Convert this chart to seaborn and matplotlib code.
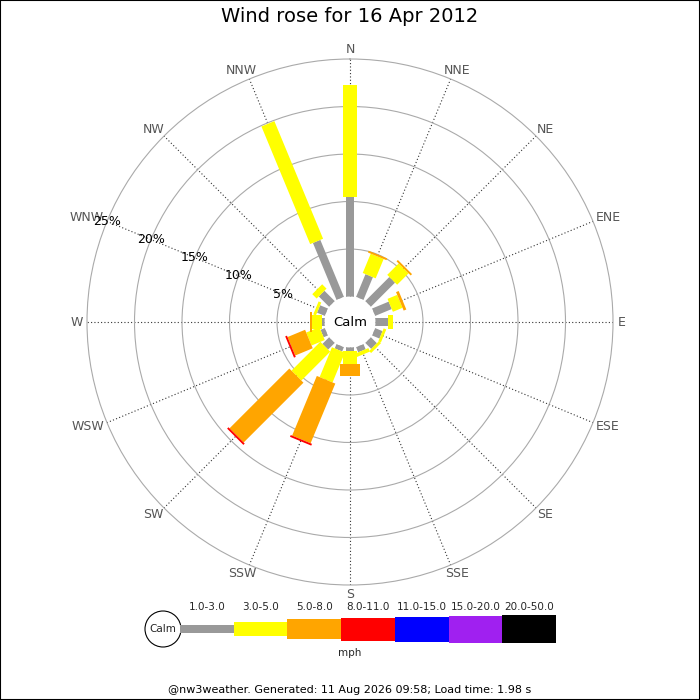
import numpy as np
import matplotlib
matplotlib.use("Agg")
import matplotlib.pyplot as plt
from matplotlib.patches import Rectangle, Circle
import seaborn as sns

# wind directions (16 points) and % of time per speed band (mph)
directions = ["N", "NNE", "NE", "ENE", "E", "ESE", "SE", "SSE",
              "S", "SSW", "SW", "WSW", "W", "WNW", "NW", "NNW"]
band_labels = ["1.0-3.0", "3.0-5.0", "5.0-8.0", "8.0-11.0",
               "11.0-15.0", "15.0-20.0", "20.0-50.0"]
pct_1_3 = [10.5, 2.6, 3.6, 1.9, 1.35, 0.85, 0.9, 0.6,
           0.35, 0.5, 1.0, 0.5, 0.3, 0.9, 1.55, 6.5]
pct_3_5 = [11.8, 2.2, 1.7, 1.1, 0.5, 0.3, 0.3, 0.4,
           1.4, 3.4, 4.3, 1.5, 1.0, 0.3, 0.65, 13.4]
pct_5_8 = [0, 0.2, 0.2, 0.3, 0, 0, 0, 0,
           1.23, 6.8, 8.9, 2.0, 0.2, 0, 0, 0]
pct_8_11 = [0, 0, 0, 0, 0, 0, 0, 0,
            0, 0.2, 0.2, 0.2, 0, 0, 0, 0]
ring_pcts = [5, 10, 15, 20, 25]

sns.set_style("white")
plt.rcParams["font.family"] = ["DejaVu Sans"]
colors = sns.color_palette(["#999999", "#ffff00", "#ffa500", "#ff0000",
                            "#0000ff", "#a020f0", "#000000"])
bar_widths_px = [8, 14, 20, 23, 25, 27, 28]  # also legend heights
px = 0.72  # points per pixel at 100 dpi

fig = plt.figure(figsize=(7, 7), dpi=100)
fig.patch.set_facecolor("white")

R = 263.0
cx, cy = 350.0, 322.0
ax = fig.add_axes([(cx - R) / 700, (700 - cy - R) / 700, 2 * R / 700, 2 * R / 700],
                  projection="polar")
ax.set_theta_zero_location("N")
ax.set_theta_direction(-1)
rorigin = -2.68
ax.set_rorigin(rorigin)
ax.set_rlim(0, 25)
ax.set_facecolor("white")
ax.patch.set_edgecolor("none")

thetas = np.deg2rad(np.arange(16) * 22.5)
ax.set_thetagrids(np.arange(16) * 22.5, labels=[])
ax.set_rgrids(ring_pcts[:-1], labels=[])
ax.xaxis.grid(True, color="#333333", linestyle=(0, (1, 2)), linewidth=0.8)
ax.yaxis.grid(True, color="#aaaaaa", linestyle="-", linewidth=0.8)
for name, sp in ax.spines.items():
    if name == "polar":
        sp.set_color("#aaaaaa")
        sp.set_linewidth(0.8)
    else:
        # polar draw() toggles visibility of the inner spine, so blank it out
        sp.set_edgecolor("none")
        sp.set_linewidth(0)
ax.tick_params(axis="both", length=0, width=0)

# stacked radial bars
bands = [pct_1_3, pct_3_5, pct_5_8, pct_8_11]
for i, th in enumerate(thetas):
    start = 0.0
    for b, vals in enumerate(bands):
        v = vals[i]
        if v <= 0:
            continue
        ax.plot([th, th], [start, start + v], color=colors[b],
                lw=bar_widths_px[b] * px, solid_capstyle="butt", zorder=3)
        start += v

# direction labels, pushed outward by half their size
dir_texts = []
for th, lab in zip(thetas, directions):
    t = ax.annotate(lab, xy=(th, 25), xytext=(0, 0), textcoords="offset pixels",
                    ha="center", va="center", fontsize=9, color="#555555",
                    annotation_clip=False)
    dir_texts.append((th, t))

# percentage labels along WNW
th_lab = np.deg2rad(292.5)
for p in ring_pcts:
    ax.text(th_lab, p, f"{p}%", ha="center", va="center",
            fontsize=9, color="black", zorder=5, clip_on=False)

# legend / annotations in pixel coordinates
ov = fig.add_axes([0, 0, 1, 1], facecolor="none")
ov.set_xlim(0, 700)
ov.set_ylim(700, 0)
ov.axis("off")

ov.text(cx, cy, "Calm", ha="center", va="center", fontsize=9.5, color="black")

leg_y = 629
seg_w = 53.7
x0 = 180
ov.add_patch(Circle((163, leg_y), 18, facecolor="white", edgecolor="black", lw=0.8))
ov.text(163, leg_y, "Calm", ha="center", va="center", fontsize=7.5)
for k, (lab, col) in enumerate(zip(band_labels, colors)):
    h = bar_widths_px[k]
    ov.add_patch(Rectangle((x0 + k * seg_w, leg_y - h / 2), seg_w, h,
                           facecolor=col, edgecolor="none"))
    ov.text(x0 + (k + 0.5) * seg_w, 607, lab, ha="center", va="center", fontsize=7.5)
ov.text(350, 653, "mph", ha="center", va="center", fontsize=7.5)

fig.text(0.5, 1 - 17 / 700, "Wind rose for 16 Apr 2012", ha="center", va="center",
         fontsize=14, color="black")
fig.text(0.5, 1 - 690 / 700,
         "@nw3weather. Generated: 11 Aug 2026 09:58; Load time: 1.98 s",
         ha="center", va="center", fontsize=8, color="black")
fig.patches.append(Rectangle((0, 0), 1, 1, transform=fig.transFigure, fill=False,
                             edgecolor="black", lw=1.5))

fig.canvas.draw()
pad, cap_h = 4.5, 10
for th, t in dir_texts:
    w = t.get_window_extent().width
    s, c = np.sin(th), np.cos(th)
    t.xyann = ((pad + w / 2) * s, (pad + cap_h / 2) * c)

fig.savefig("out.png", dpi=100)
